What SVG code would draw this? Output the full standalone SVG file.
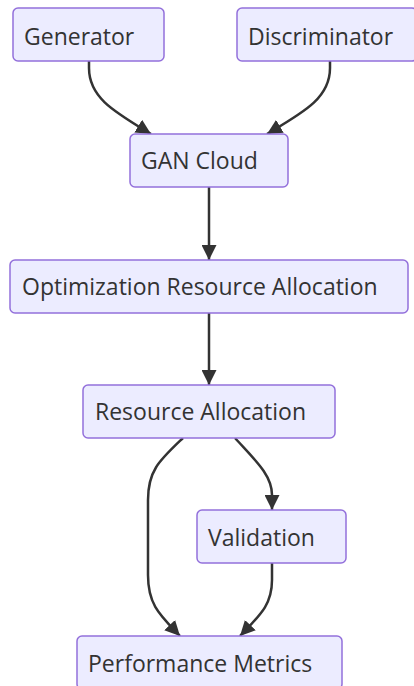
<svg xmlns="http://www.w3.org/2000/svg" width="414" height="686" viewBox="0 0 414 686">
<style>
.node rect{fill:#ECECFF;stroke:#9370DB;stroke-width:1.5}
.node text{font-family:"Open Sans","Noto Sans",sans-serif;font-size:23px;fill:#333}
.edge{fill:none;stroke:#333;stroke-width:2.5}
</style>
<defs>
<marker id="arr" viewBox="0 0 10 10" refX="10" refY="5" markerWidth="15" markerHeight="15" markerUnits="userSpaceOnUse" orient="auto">
<path d="M0,0 L10,5 L0,10 z" fill="#333"/>
</marker>
</defs>
<rect width="414" height="686" fill="#fff"/>
<g id="connectors">
<path class="edge" d="M89,61 L89,68 C89,98 115,112 151,134" marker-end="url(#arr)"/>
<path class="edge" d="M330,61 L330,68 C330,98 304,112 267,134" marker-end="url(#arr)"/>
<path class="edge" d="M209,187 L209,260" marker-end="url(#arr)"/>
<path class="edge" d="M209,313 L209,385" marker-end="url(#arr)"/>
<path class="edge" d="M183,438 C160,460 148,470 148,500 L148,575 C148,605 160,615 180,636" marker-end="url(#arr)"/>
<path class="edge" d="M235,438 C255,460 272,475 272,495 L272,510" marker-end="url(#arr)"/>
<path class="edge" d="M272,563 L272,580 C272,605 260,615 240,636" marker-end="url(#arr)"/>
</g>
<g id="generator" class="node"><rect x="13" y="8" width="151" height="53" rx="5"/><text x="24" y="45">Generator</text></g>
<g id="discriminator" class="node"><rect x="237" y="8" width="180" height="53" rx="5"/><text x="248" y="45">Discriminator</text></g>
<g id="gancloud" class="node"><rect x="130" y="134" width="158" height="53" rx="5"/><text x="141" y="169">GAN Cloud</text></g>
<g id="optimization" class="node"><rect x="10" y="260" width="398" height="53" rx="5"/><text x="22" y="295">Optimization Resource Allocation</text></g>
<g id="resource" class="node"><rect x="83" y="385" width="252" height="53" rx="5"/><text x="95" y="420">Resource Allocation</text></g>
<g id="validation" class="node"><rect x="197" y="510" width="149" height="53" rx="5"/><text x="208" y="546">Validation</text></g>
<g id="performance" class="node"><rect x="77" y="636" width="265" height="53" rx="5"/><text x="88" y="672">Performance Metrics</text></g>
</svg>
